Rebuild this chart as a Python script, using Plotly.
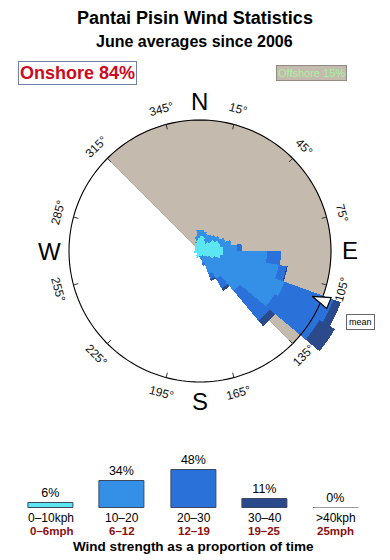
import math
import plotly.graph_objects as go

# ---------------- data ----------------
directions = [5, 15, 25, 35, 45, 55, 65, 75, 85, 95, 105, 115, 125, 135, 145, 155, 165, 175,
              185, 195, 205, 215, 225, 235, 245, 255, 265, 275, 285, 295, 305, 315, 325, 335, 345, 355]
speed_0_10 = [1.5, 1.4, 1.1, 0.9, 1.2, 1.7, 2.0, 2.1, 2.3, 2.3, 2.1, 1.5, 1.0, 0.7, 0.6, 0.5, 0.5, 0.5,
              0.5, 0.6, 0.8, 0.6, 0.4, 0.4, 0.5, 0.6, 0.6, 0.5, 0.5, 0.6, 0.6, 0.7, 0.8, 0.9, 1.1, 1.3]
speed_10_20 = [0.6, 0.6, 0.7, 1.0, 0.9, 0.6, 0.7, 1.1, 1.4, 4.4, 5.9, 7.5, 7.6, 4.5, 2.6, 1.9, 0.7, 0.3,
               0.1, 0, 0, 0, 0, 0, 0, 0, 0, 0, 0, 0, 0, 0, 0, 0.1, 0.4, 0.8]
speed_20_30 = [0, 0, 0, 0, 0, 0, 0, 0, 0.5, 1.4, 0.8, 5.2, 5.2, 3.9, 1.1, 0.6, 0.3, 0,
               0, 0, 0, 0, 0, 0, 0, 0, 0, 0, 0, 0, 0, 0, 0, 0, 0, 0]
speed_30_40 = [0, 0, 0, 0, 0, 0, 0, 0, 0, 0, 0.1, 0.8, 1.8, 0.7, 0.3, 0.2, 0, 0,
               0, 0, 0, 0, 0, 0, 0, 0, 0, 0, 0, 0, 0, 0, 0, 0, 0, 0]
speed_40_plus = [0] * 36

offshore_from, offshore_to = 315, 135
onshore_pct = 84
offshore_pct = 15
mean_direction = 112

tick_bearings = [15, 45, 75, 105, 135, 165, 195, 225, 255, 285, 315, 345]
compass_labels = ["N", "E", "S", "W"]
compass_bearings = [0, 90, 180, 270]

strength_kph = ["0–10kph", "10–20", "20–30", "30–40", ">40kph"]
strength_mph = ["0–6mph", "6–12", "12–19", "19–25", "25mph"]
strength_pct = [6, 34, 48, 11, 0]

# ---------------- style ----------------
W, H = 390, 560
CX, CY = 200, 251
R_OUT_PX = 175
R_MAX = 17.5
R_CIRCLE = 13.1
FONT = "Liberation Sans, Arial, Helvetica, sans-serif"
TAN = "#C5BAAE"
speed_colors = ["#5CE6F2", "#3390E6", "#2A72DA", "#2B4A8C", "#9A9A9A"]


def paper(px, py):
    return px / W, 1 - py / H


fig = go.Figure()

# offshore half disc (bottom polar)
off_width = (offshore_to - offshore_from) % 360
off_center = (offshore_from + off_width / 2) % 360
fig.add_trace(go.Barpolar(r=[R_CIRCLE], theta=[off_center], width=[off_width],
                          marker=dict(color=TAN, line=dict(color="#B0A79C", width=0.8)),
                          subplot="polar", showlegend=False, hoverinfo="skip"))

# wind rose (top polar, stacked)
for vals, col in zip([speed_0_10, speed_10_20, speed_20_30, speed_30_40, speed_40_plus], speed_colors):
    fig.add_trace(go.Barpolar(r=vals, theta=directions, width=[10] * len(directions),
                              marker=dict(color=col, line=dict(width=0)),
                              subplot="polar2", showlegend=False, hoverinfo="skip"))

# circle
circ_theta = list(range(0, 361, 2))
fig.add_trace(go.Scatterpolar(r=[R_CIRCLE] * len(circ_theta), theta=circ_theta, mode="lines",
                              line=dict(color="black", width=1.1), subplot="polar2",
                              showlegend=False, hoverinfo="skip"))
# tick marks
tr, tt = [], []
for b in tick_bearings:
    tr += [R_CIRCLE, R_CIRCLE - 0.5, None]
    tt += [b, b, None]
fig.add_trace(go.Scatterpolar(r=tr, theta=tt, mode="lines", line=dict(color="#333", width=1),
                              subplot="polar2", showlegend=False, hoverinfo="skip"))
# mean arrow
fig.add_trace(go.Scatterpolar(r=[12.1], theta=[mean_direction], mode="markers",
                              marker=dict(symbol="arrow", size=19, angle=mean_direction + 180,
                                          color="white", line=dict(color="black", width=1.2)),
                              subplot="polar2", showlegend=False, hoverinfo="skip"))

# bottom bar chart
fig.add_trace(go.Bar(x=list(range(len(strength_pct))), y=strength_pct, width=0.63,
                     marker=dict(color=speed_colors, line=dict(color="#3C4660", width=1)),
                     text=[f"{p}%" for p in strength_pct], textposition="outside",
                     constraintext="none", cliponaxis=False,
                     textfont=dict(size=12.5, color="black", family=FONT),
                     showlegend=False, hoverinfo="skip"))

dom_x = [(CX - R_OUT_PX) / W, (CX + R_OUT_PX) / W]
dom_y = [1 - (CY + R_OUT_PX) / H, 1 - (CY - R_OUT_PX) / H]
polar_common = dict(
    domain=dict(x=dom_x, y=dom_y),
    bgcolor="rgba(0,0,0,0)",
    barmode="stack",
    angularaxis=dict(rotation=90, direction="clockwise", visible=False, showgrid=False,
                     showline=False, showticklabels=False, ticks=""),
    radialaxis=dict(range=[0, R_MAX], visible=False, showgrid=False, showline=False,
                    showticklabels=False, ticks=""),
)

annotations = []


def ann(**kw):
    d = dict(showarrow=False, xanchor="center", yanchor="middle", xref="paper", yref="paper")
    d.update(kw)
    annotations.append(d)


# titles
ann(text="<b>Pantai Pisin Wind Statistics</b>", x=195 / W, y=1 - 18 / H,
    font=dict(size=18, color="black", family=FONT))
ann(text="<b>June averages since 2006</b>", x=194 / W, y=1 - 42 / H,
    font=dict(size=16, color="black", family=FONT))
# onshore / offshore
ann(text=f"<b>Onshore {onshore_pct}%</b>", x=77.5 / W, y=1 - 73 / H,
    font=dict(size=18, color="#CC0A1E", family=FONT),
    bordercolor="#6F80A8", borderwidth=1, borderpad=1, bgcolor="white")
ann(text=f"Offshore {offshore_pct}%", x=311.5 / W, y=1 - 73 / H,
    font=dict(size=11, color="#A6F3A0", family=FONT),
    bordercolor="#8F8A84", borderwidth=1, borderpad=1, bgcolor=TAN)
# compass letters
for lab, b in zip(compass_labels, compass_bearings):
    px = CX + 150 * math.sin(math.radians(b))
    py = CY - 150 * math.cos(math.radians(b))
    x, y = paper(px, py)
    ann(text=lab, x=x, y=y, font=dict(size=24, color="black", family=FONT))
# tick labels
for b in tick_bearings:
    px = CX + 147 * math.sin(math.radians(b))
    py = CY - 147 * math.cos(math.radians(b))
    x, y = paper(px, py)
    ang = ((b + 90) % 180) - 90
    ann(text=f"{b}°", x=x, y=y, textangle=ang, font=dict(size=12, color="#111", family=FONT))
# mean label
ann(text="mean", x=360 / W, y=1 - 321.5 / H, font=dict(size=9, color="black", family=FONT),
    bordercolor="#666", borderwidth=1, borderpad=2, bgcolor="white")
# strength labels
for i, (k, m) in enumerate(zip(strength_kph, strength_mph)):
    ann(text=k, x=i, xref="x", y=1 - 517.5 / H, borderpad=0,
        font=dict(size=12, color="black", family=FONT))
    ann(text=f"<b>{m}</b>", x=i, xref="x", y=1 - 531 / H, borderpad=0,
        font=dict(size=11.5, color="#8A1010", family=FONT))
ann(text="<b>Wind strength as a proportion of time</b>", x=193 / W, y=1 - 546.5 / H,
    font=dict(size=13.5, color="black", family=FONT))

fig.update_layout(
    width=W, height=H, autosize=False,
    margin=dict(l=0, r=0, t=0, b=0),
    paper_bgcolor="white", plot_bgcolor="white",
    polar=polar_common,
    polar2=polar_common,
    xaxis=dict(domain=[15.4 / W, 371.6 / W], range=[-0.5, 4.5], visible=False, fixedrange=True),
    yaxis=dict(domain=[1 - 508 / H, 1 - 458 / H], range=[0, 62.5], visible=False, fixedrange=True),
    annotations=annotations,
    shapes=[dict(type="line", xref="x", yref="y", x0=4 - 0.315, x1=4 + 0.315, y0=0, y1=0,
                 line=dict(color="#9A9A9A", width=2))],
    bargap=0,
)

fig.write_html("out.html")
